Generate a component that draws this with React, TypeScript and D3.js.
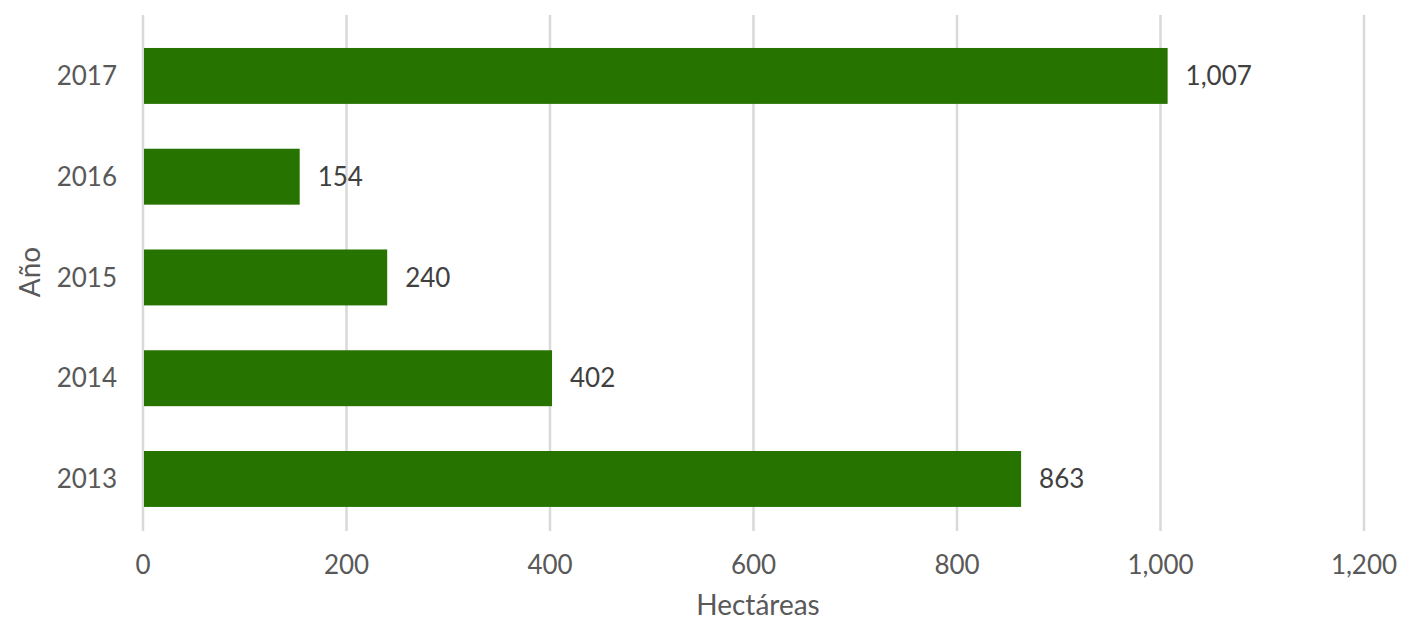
import React from "react";
import * as d3 from "d3";

const years = ["2017", "2016", "2015", "2014", "2013"];
const values = [1007, 154, 240, 402, 863];
const xTicks = [0, 200, 400, 600, 800, 1000, 1200];
const xTitle = "Hectáreas";
const yTitle = "Año";

const W = 1407;
const H = 623;
const FONT = "Lato, 'Noto Sans', sans-serif";

export default function App() {
  const x = d3.scaleLinear().domain([0, 1200]).range([143, 1364]);
  const y = d3
    .scaleBand<string>()
    .domain(years)
    .range([25.3, 529.6])
    .paddingInner(0.445)
    .paddingOuter(0.225);
  const fmt = d3.format(",");
  return (
    <svg
      width={W}
      height={H}
      style={{ position: "absolute", left: 0, top: 0, background: "#fff" }}
    >
      {xTicks.map((t) => (
        <line
          key={"g" + t}
          x1={x(t)}
          x2={x(t)}
          y1={15}
          y2={531}
          stroke="#d9d9d9"
          strokeWidth={2.5}
        />
      ))}
      {years.map((yr, i) => (
        <rect
          key={yr}
          x={x(0) + 1}
          y={y(yr)}
          width={x(values[i]) - x(0) - 1}
          height={y.bandwidth()}
          fill="#267300"
        />
      ))}
      {years.map((yr, i) => (
        <text
          key={"v" + yr}
          x={x(values[i]) + 18}
          y={(y(yr) as number) + y.bandwidth() / 2}
          dy="0.35em"
          fontFamily={FONT}
          fontSize={26}
          fill="#404040"
        >
          {fmt(values[i])}
        </text>
      ))}
      {years.map((yr) => (
        <text
          key={"l" + yr}
          x={117}
          y={(y(yr) as number) + y.bandwidth() / 2}
          dy="0.35em"
          textAnchor="end"
          fontFamily={FONT}
          fontSize={26}
          fill="#595959"
        >
          {yr}
        </text>
      ))}
      {xTicks.map((t) => (
        <text
          key={"t" + t}
          x={x(t)}
          y={574}
          textAnchor="middle"
          fontFamily={FONT}
          fontSize={26}
          fill="#595959"
        >
          {fmt(t)}
        </text>
      ))}
      <text
        x={758}
        y={615}
        textAnchor="middle"
        fontFamily={FONT}
        fontSize={28}
        fill="#595959"
      >
        {xTitle}
      </text>
      <text
        transform={`translate(40,272) rotate(-90)`}
        textAnchor="middle"
        fontFamily={FONT}
        fontSize={28}
        fill="#595959"
      >
        {yTitle}
      </text>
    </svg>
  );
}
